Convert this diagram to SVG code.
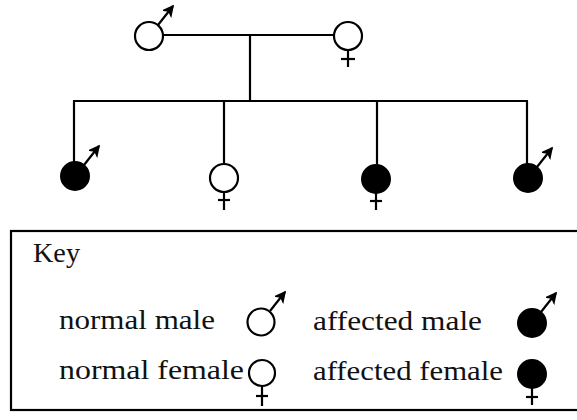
<svg xmlns="http://www.w3.org/2000/svg" width="577" height="420" viewBox="0 0 577 420">
<style>
.ln{stroke:#000;stroke-width:2.2;fill:none}
.open{fill:#fff;stroke:#000;stroke-width:2.2}
.aff{fill:#000;stroke:#000;stroke-width:2}
.lbl{font-family:"Liberation Serif","Times New Roman",serif;font-size:28px;fill:#111}
</style>
<defs>
<marker id="ah" markerWidth="12" markerHeight="12" refX="10" refY="6" orient="auto" markerUnits="userSpaceOnUse">
<path d="M1,1.5 L10,6 L1,10.5 L3.5,6 Z" fill="#000" stroke="#000" stroke-width="1.5" stroke-linejoin="miter"/>
</marker>
</defs>
<rect width="577" height="420" fill="#fff"/>
<g id="connectors" class="ln">
<line x1="163" y1="35" x2="334" y2="35"/>
<line x1="250" y1="35" x2="250" y2="101"/>
<line x1="73" y1="101" x2="528" y2="101"/>
<line x1="74" y1="101" x2="74" y2="162"/>
<line x1="224" y1="101" x2="224" y2="164"/>
<line x1="377" y1="101" x2="377" y2="165"/>
<line x1="527" y1="101" x2="527" y2="164"/>
</g>
<g id="father">
<circle class="open" cx="149" cy="36" r="14"/>
<line class="ln" x1="158" y1="25" x2="173" y2="6" marker-end="url(#ah)"/>
</g>
<g id="mother">
<circle class="open" cx="348" cy="36" r="14"/>
<line class="ln" x1="348" y1="50" x2="348" y2="67"/>
<line class="ln" x1="341" y1="59" x2="355" y2="59"/>
</g>
<g id="child1">
<circle class="aff" cx="75" cy="176" r="14"/>
<line class="ln" x1="84" y1="165" x2="99" y2="146" marker-end="url(#ah)"/>
</g>
<g id="child2">
<circle class="open" cx="224" cy="178" r="14"/>
<line class="ln" x1="224" y1="192" x2="224" y2="210"/>
<line class="ln" x1="218" y1="200" x2="230" y2="200"/>
</g>
<g id="child3">
<circle class="aff" cx="376" cy="179" r="14"/>
<line class="ln" x1="376" y1="193" x2="376" y2="210"/>
<line class="ln" x1="370" y1="201" x2="382" y2="201"/>
</g>
<g id="child4">
<circle class="aff" cx="528" cy="178" r="14"/>
<line class="ln" x1="537" y1="167" x2="552" y2="148" marker-end="url(#ah)"/>
</g>
<g id="key">
<rect x="11" y="231" width="580" height="179" class="ln"/>
<text class="lbl" x="33" y="262" font-size="25" textLength="47" lengthAdjust="spacingAndGlyphs">Key</text>
<text class="lbl" x="59" y="329" textLength="156" lengthAdjust="spacingAndGlyphs">normal male</text>
<text class="lbl" x="59" y="379" textLength="185" lengthAdjust="spacingAndGlyphs">normal female</text>
<text class="lbl" x="313" y="330" textLength="169" lengthAdjust="spacingAndGlyphs">affected male</text>
<text class="lbl" x="313" y="380" textLength="190" lengthAdjust="spacingAndGlyphs">affected female</text>
<circle class="open" cx="261" cy="322" r="13.5"/>
<line class="ln" x1="270" y1="311" x2="285" y2="292" marker-end="url(#ah)"/>
<circle class="open" cx="262" cy="373" r="13"/>
<line class="ln" x1="262" y1="386" x2="262" y2="406"/>
<line class="ln" x1="256" y1="396" x2="268" y2="396"/>
<circle class="aff" cx="532" cy="323" r="14"/>
<line class="ln" x1="541" y1="312" x2="556" y2="293" marker-end="url(#ah)"/>
<circle class="aff" cx="532" cy="374" r="14"/>
<line class="ln" x1="532" y1="388" x2="532" y2="405"/>
<line class="ln" x1="526" y1="397" x2="538" y2="397"/>
</g>
</svg>
